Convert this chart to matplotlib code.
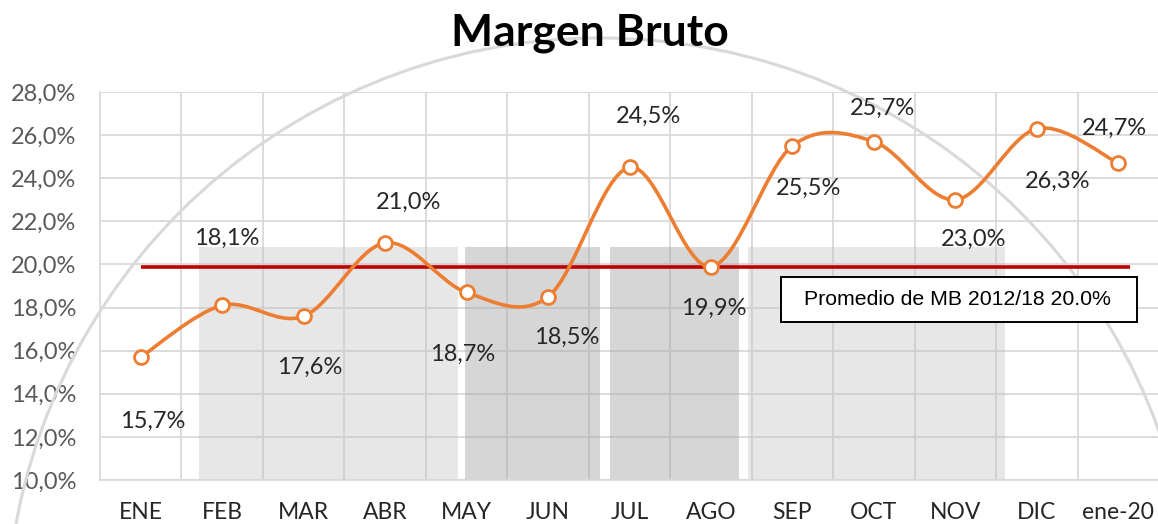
import numpy as np
import matplotlib.pyplot as plt
from matplotlib.path import Path
from matplotlib.patches import PathPatch, Rectangle, Ellipse

months = ["ENE", "FEB", "MAR", "ABR", "MAY", "JUN", "JUL", "AGO", "SEP", "OCT", "NOV", "DIC", "ene-20"]
margen = [15.7, 18.1, 17.6, 21.0, 18.7, 18.5, 24.5, 19.9, 25.5, 25.7, 23.0, 26.3, 24.7]
promedio = 19.9
promedio_txt = "Promedio de MB 2012/18 20.0%"

# background blocks (category units)
shade_start = [0.71, 3.98, 5.76, 7.46]
shade_end = [3.90, 5.64, 7.35, 10.61]
shade_top = 20.8
shade_col = ["#bfbfbf", "#a6a6a6", "#a6a6a6", "#bfbfbf"]
shade_alpha = [0.36, 0.45, 0.45, 0.36]

# label offsets in px (dx, dy)
lab_off = [(12, -64), (5, 67), (6, -51), (23, 41), (-4, -62), (19, -41), (19, 51),
           (3, -42), (16, -42), (9, 33), (18, -40), (21, -53), (-4, 35)]

plt.rcParams['font.family'] = ['Lato', 'DejaVu Sans']

W, H = 1158, 524
fig = plt.figure(figsize=(W / 100, H / 100), dpi=100)
ax = fig.add_axes([100/W, 44/H, 1059/W, 388/H])

x = np.arange(len(months))
y = np.array(margen)

# grid + axes
ax.set_xlim(-0.5, len(months) - 0.5)
ax.set_ylim(10, 28)
ax.set_yticks(np.arange(10, 29, 2))
ax.set_yticklabels([f"{v:.1f}%".replace(".", ",") for v in np.arange(10, 29, 2)])
ax.set_xticks(x)
ax.set_xticklabels(months)
ax.set_xticks(x[:-1] + 0.5, minor=True)
ax.set_axisbelow(True)
ax.grid(True, which="major", axis="y", color="#d9d9d9", lw=1.3)
ax.grid(True, which="minor", axis="x", color="#d9d9d9", lw=1.3)
ax.tick_params(which="both", length=0)
ax.tick_params(axis="y", labelsize=17, labelcolor="#595959", pad=17)
ax.tick_params(axis="x", labelsize=16.5, labelcolor="#262626", pad=16)
for s in ["top", "right"]:
    ax.spines[s].set_visible(False)
for s in ["left", "bottom"]:
    ax.spines[s].set_color("#d9d9d9")
    ax.spines[s].set_linewidth(1.3)

for s0, s1, c, a in zip(shade_start, shade_end, shade_col, shade_alpha):
    ax.add_patch(Rectangle((s0, 10), s1 - s0, shade_top - 10, facecolor=c, alpha=a,
                           edgecolor="none", zorder=1))

# big decorative arc
r = 594
arc = Ellipse((600/W, -108/H), 2*r/W, 2*r/H, transform=fig.transFigure,
              fill=False, edgecolor="#d9d9d9", lw=2.2, zorder=0.8, clip_on=False)
ax.add_patch(arc)

# average line
ax.plot([0, 12.14], [promedio, promedio], color="#c00000", lw=2.6, zorder=2,
        solid_capstyle="butt")

# smoothed line (Excel style bezier)
pts = list(zip(x, y))
verts = [pts[0]]
codes = [Path.MOVETO]
n = len(pts)
for i in range(n - 1):
    p0 = np.array(pts[max(i - 1, 0)], dtype=float)
    p1 = np.array(pts[i], dtype=float)
    p2 = np.array(pts[i + 1], dtype=float)
    p3 = np.array(pts[min(i + 2, n - 1)], dtype=float)
    c1 = p1 + (p2 - p0) / 6
    c2 = p2 - (p3 - p1) / 6
    verts += [tuple(c1), tuple(c2), tuple(p2)]
    codes += [Path.CURVE4] * 3
ax.add_patch(PathPatch(Path(verts, codes), facecolor="none", edgecolor="#ed7d31",
                       lw=2.6, zorder=3, capstyle="round"))
ax.plot(x, y, "o", ms=10, mfc="white", mec="#ed7d31", mew=2, zorder=4)

for xi, yi, (dx, dy) in zip(x, y, lab_off):
    ax.annotate(f"{yi:.1f}%".replace(".", ","), (xi, yi), xytext=(dx * 0.72, dy * 0.72),
                textcoords="offset points", ha="center", va="center",
                fontsize=17, color="#262626", zorder=5)

fig.text(590/W, 1 - 33/H, "Margen Bruto", ha="center", va="center",
         fontsize=32, fontweight="bold", color="black")

# average label box
bx0, bx1, by0, by1 = 781, 1137, 277, 322
ax.add_patch(Rectangle((bx0/W, 1 - by1/H), (bx1 - bx0)/W, (by1 - by0)/H,
                       transform=fig.transFigure, facecolor="white", edgecolor="black",
                       lw=1.4, zorder=6, clip_on=False))
ax.text((bx0 + bx1)/2/W - 2/W, 1 - (by0 + by1)/2/H, promedio_txt, transform=fig.transFigure,
        ha="center", va="center", fontsize=15.3, family=["Liberation Sans", "DejaVu Sans"],
        color="black", zorder=7)

fig.savefig("out.png", dpi=100)
